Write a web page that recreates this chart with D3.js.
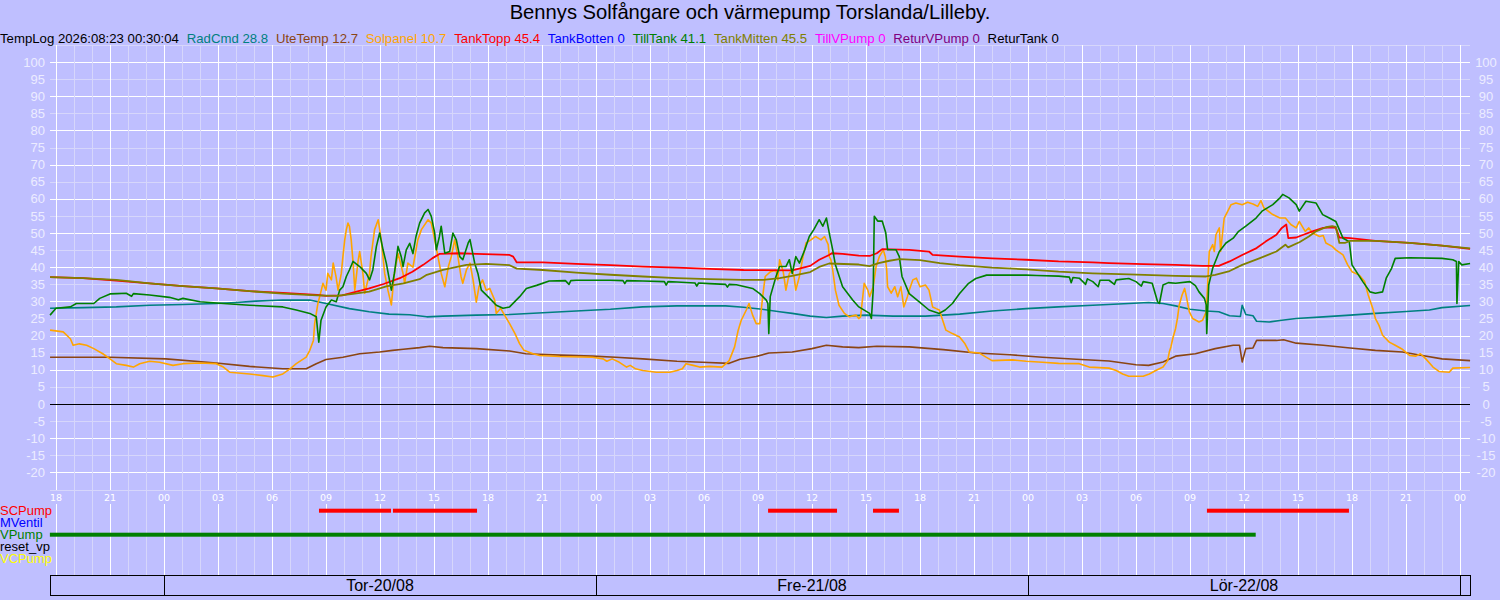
<!DOCTYPE html>
<html><head><meta charset="utf-8">
<script src="https://cdn.jsdelivr.net/npm/d3@7"></script>
<style>
body{margin:0;background:#bfbfff;}
svg{display:block;font-family:"Liberation Sans",Arial,sans-serif;}
</style>
</head><body><svg id="c" width="1500" height="600"></svg>
<script>
// ---------- DATA (hours relative to 2026-08-20 00:00, value) ----------
const title = "Bennys Solfångare och värmepump Torslanda/Lilleby.";
const stamp = "TempLog 2026:08:23 00:30:04";
const legendNames = ["RadCmd","UteTemp","Solpanel","TankTopp","TankBotten","TillTank","TankMitten","TillVPump","ReturVPump","ReturTank"];
const legendValues = ["28.8","12.7","10.7","45.4","0","41.1","45.5","0","0","0"];
const legendColors = ["#008080","#8b4513","#ffa500","#ff0000","#0000ff","#008000","#808000","#ff00ff","#800080","#000000"];
const yTicks = [100,95,90,85,80,75,70,65,60,55,50,45,40,35,30,25,20,15,10,5,0,-5,-10,-15,-20];
const dayLabels = ["Tor-20/08","Fre-21/08","Lör-22/08"];
const signalNames = ["SCPump","MVentil","VPump","reset_vp","VCPump"];
const signalColors = ["#ff0000","#0000ff","#008000","#000000","#ffff00"];
const scPump = [[8.61,12.61],[12.72,17.39],[33.56,37.39],[39.39,40.83],[57.94,65.83]];
const mVentil = [];
const vPump = [[-6.34,60.65]];
const resetVp = [];
const vcPump = [];

const radCmd = [[-6.33,28],[-4.5,28.2],[-2.65,28.4],[-0.8,28.9],[1.05,29.1],[2.9,29.4],[4,29.7],[5.1,30.1],[6.6,30.4],[8.1,30.4],[9,29.4],[10.3,27.9],[11.4,27],[12.5,26.3],[13.65,26.1],[14.6,25.5],[15.5,25.7],[17.35,26],[19.2,26.2],[21.05,26.7],[22.9,27.2],[24.8,27.7],[26.6,28.4],[28.5,28.7],[31.2,28.7],[32.2,28.3],[33.1,27.8],[34.2,27],[34.9,26.5],[35.9,25.7],[36.8,25.3],[37.7,25.7],[39,26],[40.5,25.7],[42.3,25.7],[44.2,26.3],[46,27.2],[47.9,27.9],[49.7,28.4],[51.6,28.9],[53.6,29.4],[54.7,29.7],[55.5,29.4],[56.2,28.7],[57,27.7],[57.9,27.2],[58.6,27],[59.2,25.8],[59.8,25.6],[59.9,28.9],[60.1,26.2],[60.5,25.8],[60.7,24.2],[61.4,24],[62.1,24.5],[62.9,25],[64.4,25.5],[65.9,26],[67.3,26.5],[68.8,27],[70.3,27.5],[71,28.2],[72.56,28.8]];

const uteTemp = [[-6.33,13.7],[-3,13.7],[0.1,13.2],[2.9,12],[4.75,11],[6.6,10.3],[7.9,10.3],[8.46,11.8],[9,13],[9.94,13.7],[10.87,14.7],[11.98,15.2],[12.7,15.7],[13.3,16],[14.2,16.5],[14.76,16.9],[15.5,16.5],[17.35,16.2],[19.2,15.5],[20.1,14.7],[22,14.3],[23.8,14],[25.1,13.7],[26.6,13.2],[28.5,12.5],[29.9,12.2],[31.4,11.9],[32,13.1],[32.9,13.9],[33.6,14.9],[34.9,15.2],[36,16.2],[36.8,17.2],[37.7,16.7],[38.6,16.5],[39.6,16.9],[41.4,16.7],[43.3,15.9],[45.1,14.9],[47,14.4],[48.8,13.7],[50.7,13.1],[52.5,12.6],[54,11.5],[54.7,11.3],[55.5,12.3],[56.2,14],[57.3,14.7],[58.4,16.2],[59.4,17.2],[59.75,17.2],[59.9,12.3],[60.1,16.2],[60.5,16.4],[60.7,18.6],[61.8,18.6],[62.2,18.8],[62.9,17.8],[64.4,17.2],[65.9,16.4],[67.3,15.7],[68.8,15.2],[69.9,14.2],[71,13.2],[72.56,12.7]];

const solpanel = [[-6.33,21.6],[-5.6,21.1],[-5.2,19.1],[-5.05,17.2],[-4.7,17.6],[-4.3,17.2],[-3.9,16.2],[-3.4,14.7],[-3,13.2],[-2.65,11.8],[-2.1,11.3],[-1.7,10.8],[-1.35,11.8],[-0.8,12.5],[-0.25,12.2],[0.5,11.3],[1.05,11.8],[2,12],[2.9,11.8],[3.3,10.8],[3.65,9.3],[4.75,8.8],[5.5,8.3],[6.05,7.9],[6.6,8.8],[7,10.3],[7.35,11.8],[7.9,13.7],[8.1,15.7],[8.3,18.6],[8.37,23.5],[8.55,29.4],[8.74,33.3],[8.83,35.3],[9,33.3],[9.1,38.2],[9.3,36.3],[9.4,41.2],[9.55,37.5],[9.67,33.3],[9.85,38.2],[9.94,43.1],[10.04,48],[10.13,51],[10.22,52.9],[10.3,52],[10.4,48],[10.5,41.7],[10.6,33.3],[10.78,41.7],[10.87,44.6],[11.05,38.2],[11.15,32.4],[11.42,38.2],[11.5,43.1],[11.7,51],[11.9,53.9],[12.07,48],[12.26,38.2],[12.44,33.3],[12.63,29],[12.8,38.2],[13,44.1],[13.28,38.2],[13.37,35.3],[13.55,41.2],[13.83,40],[14.1,48],[14.3,51],[14.67,53.9],[14.85,52.9],[15.04,48],[15.22,43.1],[15.4,38.2],[15.6,34.3],[15.8,40.2],[15.96,43.1],[16.15,48],[16.33,43.1],[16.5,37.3],[16.6,35.3],[16.8,39.2],[17,41.2],[17.17,36.3],[17.35,29.8],[17.5,34.3],[17.7,36.3],[17.9,33.3],[18.1,33.8],[18.37,30.4],[18.46,26.5],[18.7,28],[18.93,25.9],[19.2,23.5],[19.5,20.6],[19.76,17.6],[20,15.7],[20.5,14.7],[20.87,14.2],[22,13.9],[23.8,13.7],[24.4,13.2],[24.6,12.5],[24.9,13.2],[25.3,12.2],[25.7,10.8],[25.9,11.3],[26.2,10.3],[26.6,9.8],[27.35,9.3],[28.1,9.3],[28.5,9.8],[28.8,10.3],[29,11.8],[29.4,11.3],[29.76,10.8],[30.3,11],[31,10.8],[31.4,12.7],[31.7,16.7],[31.9,21.6],[32.07,24.5],[32.35,27.5],[32.5,29.4],[32.7,26],[32.9,23.5],[33.1,23.5],[33.26,31.4],[33.4,37.3],[33.7,38.7],[34,39.2],[34.1,36.3],[34.2,42.2],[34.4,38.7],[34.55,33.3],[34.74,38.2],[34.9,39.2],[35,37.3],[35.1,33.3],[35.3,37.3],[35.5,43.1],[35.67,47.1],[35.94,48],[36.2,49],[36.5,48],[36.7,49],[36.9,46.6],[36.96,43.1],[37.05,42.2],[37.15,39.2],[37.3,33.3],[37.5,28.9],[37.8,26.5],[38.07,25.5],[38.44,26],[38.6,25],[38.7,25.5],[38.8,30.4],[38.9,35.3],[39.1,33.3],[39.2,31.4],[39.4,34.3],[39.56,40.2],[39.74,43.1],[39.96,45.1],[40.07,43.1],[40.15,39.2],[40.2,34.3],[40.4,32.4],[40.6,34.3],[40.76,31.4],[40.94,34.3],[41.1,28.4],[41.3,31.4],[41.4,33.3],[41.6,36.3],[41.8,36.8],[42,34.3],[42.3,34.8],[42.5,33.3],[42.7,28.4],[42.9,27.9],[43.07,27.5],[43.26,24.5],[43.44,21.6],[43.8,20.6],[44.2,19.6],[44.5,17.6],[44.74,15.2],[45.3,14.9],[45.67,13.7],[46,12.7],[47.15,12.9],[47.9,12.5],[48.8,12.2],[49.7,11.9],[50.85,11.8],[51.4,10.8],[52.5,10.5],[52.9,9.8],[53.26,8.8],[53.6,8.1],[54.4,8.1],[54.74,8.8],[55.1,9.8],[55.5,10.8],[55.76,12.7],[55.85,15.2],[55.94,16.7],[56.04,19.1],[56.2,22.1],[56.3,25],[56.4,28.9],[56.56,31.9],[56.7,33.8],[56.8,31.4],[56.96,27],[57.15,25],[57.5,24],[57.7,24.5],[57.9,27],[57.98,34.8],[58.07,44.6],[58.26,46.6],[58.35,44.6],[58.44,49.5],[58.63,51.5],[58.7,44.6],[58.9,54.4],[59.1,56.4],[59.28,58.3],[59.55,58.8],[59.9,58.3],[60.2,59],[60.5,58.5],[60.76,57.8],[60.94,59.5],[61.1,57.4],[61.6,55.4],[62,54.4],[62.3,54.4],[62.6,52.5],[62.9,51.5],[63.07,53.4],[63.4,50.5],[63.6,51.5],[63.8,50],[64.2,49],[64.4,49.3],[64.55,47.1],[64.9,46.1],[65.1,45.1],[65.5,43.6],[65.76,40.7],[66,38.7],[66.4,37.7],[66.7,35.8],[66.9,31.9],[67.15,28],[67.3,25],[67.5,23],[67.7,20.1],[68.07,18.1],[68.4,17.2],[68.8,16],[69.2,14.2],[69.55,14],[69.8,14.7],[70.1,13.2],[70.5,10.8],[70.85,9.5],[71.4,9.3],[71.6,10.5],[72.56,10.7]];

const tankTopp = [[-6.33,37.1],[-4.5,36.8],[-2.65,36.1],[-0.8,35.3],[1.05,34.5],[2.9,33.8],[4.75,33],[6.6,32.5],[8.5,31.9],[9,31.6],[9.9,31.8],[10.7,32.9],[11.4,33.8],[12.2,35.1],[13.1,36.8],[13.8,38.7],[14.4,40.7],[14.9,42.6],[15.3,43.9],[16.4,44.1],[17.35,43.9],[19.2,43.6],[19.4,43.1],[19.6,41.4],[21.05,41.4],[22.9,41],[24.8,40.6],[26.6,40.2],[28.5,39.9],[30.3,39.5],[32.2,39.2],[34.9,39.1],[35.9,40.4],[36.4,42.2],[36.95,43.6],[37.1,44.1],[37.7,43.9],[38.6,43.4],[39.2,43.3],[39.6,44.1],[39.9,45.3],[41.4,45.1],[42.5,44.6],[42.7,43.6],[44.2,43.1],[46,42.6],[47.9,42.2],[49.7,41.7],[51.6,41.4],[52.5,41.2],[54.4,40.9],[56.2,40.7],[57.7,40.4],[58.6,40.4],[59.2,41.7],[59.9,43.6],[60.7,45.6],[61.2,47.5],[61.8,49.5],[62.1,51.5],[62.35,52.5],[62.46,48.5],[62.9,48.7],[63.3,49.5],[63.8,50.5],[64.4,51.5],[64.9,51.7],[65.1,51.5],[65.3,48.7],[65.9,48.5],[67.3,47.7],[69.2,47.1],[71,46.3],[72.56,45.4]];

const tillTank = [[-6.33,26],[-6,28],[-5.2,28.4],[-4.87,29.4],[-3.9,29.4],[-3.57,30.9],[-3,32.2],[-2.6,32.3],[-2.1,32.4],[-1.8,31.5],[-1.7,32.3],[-0.8,31.9],[0.3,31.2],[0.8,30.5],[1.05,30.9],[2,29.9],[3.3,29.4],[4.75,28.9],[6.6,28.4],[7.35,27.5],[8.1,26.5],[8.46,25.5],[8.6,18.1],[8.72,24.4],[9,28.4],[9.3,30.4],[9.57,29.9],[9.76,33.3],[9.94,34.3],[10.13,37.3],[10.3,39.2],[10.5,41.7],[10.87,40.2],[11.24,38.2],[11.42,36.3],[11.6,39.2],[11.8,46.1],[11.98,50],[12.17,45.1],[12.35,41.2],[12.63,33.3],[12.8,38.2],[13,46.1],[13.18,43.1],[13.28,40.2],[13.46,45.1],[13.65,47],[13.83,44],[14,49],[14.2,52.9],[14.48,55.9],[14.67,56.9],[14.85,54.9],[15.04,50],[15.13,45.1],[15.3,49],[15.4,52],[15.6,44.1],[15.87,44.6],[16.05,50],[16.24,48],[16.43,43.1],[16.6,42.2],[16.9,47.1],[17,48.1],[17.26,41.2],[17.44,38.2],[17.63,33.3],[18,31.4],[18.46,28.9],[18.83,28],[19.2,28.4],[19.76,31.4],[20.13,33.8],[20.7,34.7],[21.4,36],[22.3,36.1],[22.5,35],[22.6,36.1],[22.9,36.2],[24.8,36.2],[25.5,36.1],[25.6,35.2],[25.7,36.1],[26.6,36],[27.8,35.8],[27.9,34.8],[28,35.8],[28.5,35.7],[29.5,35.4],[29.6,34.5],[29.7,35.4],[30.3,35.2],[31.2,35],[31.3,34.2],[31.4,35],[31.8,34.9],[32.7,33.8],[33.1,32.3],[33.46,30.4],[33.55,29.4],[33.6,20.6],[33.68,31.4],[34,37.3],[34.2,40.2],[34.55,40.2],[34.74,42.2],[34.9,38.2],[35.1,43.1],[35.3,41.2],[35.6,45.1],[35.85,49],[36.1,51],[36.4,53.9],[36.6,52],[36.8,54.4],[36.96,50],[37.15,45.1],[37.3,40.7],[37.7,34.3],[38.26,30.4],[38.6,28.4],[39.2,26.5],[39.3,25],[39.4,33.3],[39.46,54.9],[39.65,53.5],[39.9,53.5],[40.1,50],[40.2,45.1],[40.67,45.1],[40.85,43.1],[41,37.3],[41.4,32.3],[41.96,29.9],[42.5,27.5],[43.07,26.5],[43.4,27.5],[43.8,29.4],[44.2,32.3],[44.7,35.3],[45.1,36.7],[45.7,37.7],[47.9,37.7],[48.5,37.6],[49.7,37.4],[50.3,37.1],[50.4,35.5],[50.5,37],[50.85,36.8],[51.2,35],[51.3,36.6],[51.6,35.8],[51.9,34.3],[52,36.2],[52.5,36.2],[52.8,35],[52.9,36.3],[53.6,36.7],[54,35.8],[54.3,34.5],[54.4,35.8],[54.9,35.3],[55.2,29.9],[55.3,29.4],[55.5,34.8],[55.8,35.5],[56.2,35.3],[57,35.8],[57.3,34.6],[57.5,32.8],[57.8,30.9],[57.9,29],[57.93,20.6],[58.04,34.8],[58.26,39.7],[58.63,44.6],[59,47.1],[59.4,48.5],[59.7,50.5],[60.1,52],[60.67,54.4],[61,56.4],[61.6,58.3],[62,60.3],[62.15,61.3],[62.5,60.3],[62.9,58.3],[63.07,56.4],[63.44,59.3],[64,58.8],[64.37,55.4],[64.74,54.4],[65.1,53.4],[65.5,48.5],[65.85,47.5],[66,40.7],[66.6,35.8],[67,32.8],[67.3,32.4],[67.7,32.8],[67.9,36.8],[68.2,39.7],[68.4,42.6],[69.2,42.8],[71,42.6],[71.6,42.2],[71.8,41.7],[71.83,29.4],[71.93,41.7],[72.1,40.7],[72.56,41.1]];

const tankMitten = [[-6.33,37.1],[-4.5,36.8],[-2.65,36.3],[-0.8,35.3],[1.05,34.5],[2.9,33.8],[4.75,33],[6.6,32.3],[8.5,31.8],[9.6,31.6],[10.5,32.2],[11.4,32.9],[12.35,34.4],[13.3,35.3],[14.2,36.5],[14.6,37.8],[15.5,39.2],[16.8,40.7],[17.9,41],[19.2,40.6],[19.6,39.6],[21.05,39.2],[22.9,38.4],[24.8,37.8],[26.6,37.3],[28.5,36.8],[30.3,36.5],[32.2,36.3],[33.3,36.3],[34.2,36.8],[34.9,37.5],[35.9,38.6],[36.4,40.1],[36.95,41.1],[38.6,40.8],[39.2,40.3],[39.7,41.2],[40.3,41.9],[40.85,42.4],[42,42.1],[43.1,41.2],[44.2,40.6],[46,39.9],[47.9,39.4],[49.7,38.7],[51.6,38.2],[53.6,37.9],[56.2,37.5],[57.9,37.3],[58.4,37.8],[59.2,38.9],[59.9,40.7],[60.85,42.6],[61.8,44.6],[62.3,46.6],[62.45,45.8],[63.1,47.4],[63.6,49],[64,50.5],[64.55,51.7],[64.9,52],[65.1,51.8],[65.3,47.1],[65.6,47.1],[65.9,47.7],[67.3,47.7],[69.2,47.1],[71,46.3],[72.56,45.5]];

// ---------- CHART ----------
const W = 1500, H = 600;
const svg = d3.select("#c");
const base = new Date(2026, 7, 20, 0, 0, 0);
const T = h => new Date(base.getTime() + h * 3600000);
const pL = 50, pR = 1470, pT = 45, pB = 489.5;
const x = d3.scaleTime().domain([T(-6 - 20/60), T(72 + 33.33/60)]).range([pL, pR]);
const y = d3.scaleLinear().domain([-25, 105]).range([pB, pT]);

const bg = "#bfbfff", minorC = "#d6d6fb", majorC = "#ffffff";
svg.append("rect").attr("width", W).attr("height", H).attr("fill", bg);

const boxTop = 575, boxBot = 595;
const g = svg.append("g").attr("shape-rendering", "crispEdges");
d3.range(-25, 106, 5).forEach(v => {
  g.append("line").attr("x1", pL).attr("x2", pR)
    .attr("y1", Math.round(y(v)) + 0.5).attr("y2", Math.round(y(v)) + 0.5)
    .attr("stroke", v === 0 ? "#000" : (v % 10 === 0 ? majorC : minorC)).attr("stroke-width", 1);
});
const hours = d3.timeHour.every(1).range(x.domain()[0], x.domain()[1]);
hours.forEach(t => {
  const xx = Math.round(x(t)) + 0.5;
  const major = t.getHours() % 3 === 0;
  if (major) {
    g.append("line").attr("x1", xx).attr("x2", xx).attr("y1", pT).attr("y2", pB).attr("stroke", majorC);
    g.append("line").attr("x1", xx).attr("x2", xx).attr("y1", 504).attr("y2", boxTop).attr("stroke", majorC);
  } else {
    g.append("line").attr("x1", xx).attr("x2", xx).attr("y1", pT).attr("y2", boxTop).attr("stroke", minorC);
  }
});
g.append("line").attr("x1", pL).attr("x2", pR)
  .attr("y1", Math.round(y(0)) + 0.5).attr("y2", Math.round(y(0)) + 0.5).attr("stroke", "#000");

const labC = "#ececff";
svg.append("g").selectAll("text").data(yTicks).join("text")
  .attr("x", 45).attr("y", d => y(d)).attr("dy", "0.35em").attr("text-anchor", "end")
  .attr("font-size", 13).attr("fill", labC).text(d => d);
svg.append("g").selectAll("text").data(yTicks).join("text")
  .attr("x", 1486).attr("y", d => y(d)).attr("dy", "0.35em").attr("text-anchor", "middle")
  .attr("font-size", 13).attr("fill", labC).text(d => d);

const xt = d3.timeHour.every(3).range(x.domain()[0], x.domain()[1]);
svg.append("g").selectAll("text").data(xt).join("text")
  .attr("x", d => x(d)).attr("y", 501).attr("text-anchor", "middle")
  .attr("font-family", "DejaVu Sans").attr("font-size", 9.5).attr("fill", "#ffffff")
  .text(d3.timeFormat("%H"));

const line = d3.line().x(d => x(T(d[0]))).y(d => y(d[1]));
const series = [
  [radCmd, legendColors[0], 1.6],
  [uteTemp, legendColors[1], 1.6],
  [solpanel, legendColors[2], 1.6],
  [tankTopp, legendColors[3], 1.8],
  [tillTank, legendColors[5], 1.6],
  [tankMitten, legendColors[6], 1.8]
];
const lg = svg.append("g");
series.forEach(([d, c, w]) => {
  lg.append("path").datum(d).attr("d", line).attr("fill", "none")
    .attr("stroke", c).attr("stroke-width", w).attr("stroke-linejoin", "round");
});

svg.append("text").attr("x", 750).attr("y", 19).attr("text-anchor", "middle")
  .attr("font-size", 20.2).attr("fill", "#000").text(title);

let lx = 0;
const legY = 43, legFs = 13.2, legGap = 7.8;
const st = svg.append("text").attr("x", lx).attr("y", legY).attr("font-size", legFs).attr("fill", "#000").text(stamp);
lx += st.node().getComputedTextLength() + legGap;
legendNames.forEach((n, i) => {
  const t = svg.append("text").attr("x", lx).attr("y", legY).attr("font-size", legFs)
    .attr("fill", legendColors[i]).text(n + " " + legendValues[i]);
  lx += t.node().getComputedTextLength() + legGap;
});

const sigData = [scPump, mVentil, vPump, resetVp, vcPump];
signalNames.forEach((n, i) => {
  const cy = 510.7 + 12 * i;
  svg.append("text").attr("x", 0).attr("y", cy + 4.5).attr("font-size", 13)
    .attr("fill", signalColors[i]).text(n);
  svg.append("g").selectAll("rect").data(sigData[i]).join("rect")
    .attr("x", d => x(T(d[0]))).attr("width", d => x(T(d[1])) - x(T(d[0])))
    .attr("y", cy - 2).attr("height", 4).attr("fill", signalColors[i]);
});

const bx = svg.append("g").attr("shape-rendering", "crispEdges");
bx.append("rect").attr("x", pL + 0.5).attr("y", boxTop + 0.5).attr("width", pR - pL)
  .attr("height", boxBot - boxTop).attr("fill", "none").attr("stroke", "#000");
const days = d3.timeDay.range(x.domain()[0], x.domain()[1]);
days.forEach(d => {
  const xx = Math.round(x(d)) + 0.5;
  bx.append("line").attr("x1", xx).attr("x2", xx).attr("y1", boxTop).attr("y2", boxBot).attr("stroke", "#000");
});
dayLabels.forEach((lab, i) => {
  const a = x(days[i]), b = x(days[i + 1]);
  svg.append("text").attr("x", (a + b) / 2).attr("y", 591).attr("text-anchor", "middle")
    .attr("font-size", 16).attr("fill", "#000").text(lab);
});
</script></body></html>
